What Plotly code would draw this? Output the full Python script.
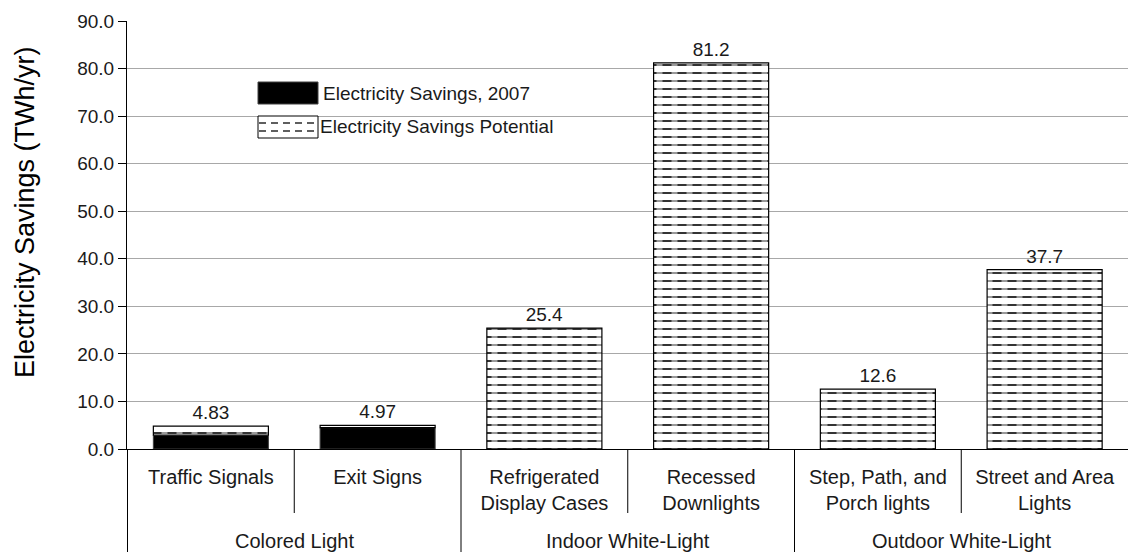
import plotly.graph_objects as go

# ---- data ----
groups = ["Colored Light", "Colored Light", "Indoor White-Light", "Indoor White-Light",
          "Outdoor White-Light", "Outdoor White-Light"]
categories = ["Traffic Signals", "Exit Signs", "Refrigerated<br>Display Cases",
              "Recessed<br>Downlights", "Step, Path, and<br>Porch lights", "Street and Area<br>Lights"]
savings_2007 = [2.9, 4.5, 0.0, 0.0, 0.0, 0.0]
savings_potential_total = [4.83, 4.97, 25.4, 81.2, 12.6, 37.7]
y_ticks = [0, 10, 20, 30, 40, 50, 60, 70, 80, 90]

FONT = "Liberation Sans, Arial, sans-serif"
TXT = "#1a1a1a"
remaining = [t - s for t, s in zip(savings_potential_total, savings_2007)]
labels = [f"{v:.3g}" for v in savings_potential_total]

# page body has an 8px margin: plot area in page px -> left 127, top 21, right 1128, bottom 449
PL, PT, PR, PB = 127, 21, 1128, 449
W, H = 1134, 544
PW, PH = PR - PL, PB - PT


def px(x):
    return (x - PL) / PW


def py(y):
    return (PB - y) / PH


fig = go.Figure()
fig.add_trace(go.Bar(x=categories, y=savings_2007, base=0, name="Electricity Savings, 2007",
                     marker=dict(color="black", line=dict(color="#404040", width=1)),
                     showlegend=False))
fig.add_trace(go.Bar(x=categories, y=remaining, base=savings_2007, name="Electricity Savings Potential",
                     marker=dict(color="white", line=dict(width=0),
                                 pattern=dict(shape="-", size=8, solidity=0.25,
                                              fgcolor="#333333", bgcolor="white", fillmode="replace")),
                     showlegend=False))
fig.add_trace(go.Bar(x=categories, y=remaining, base=savings_2007, hoverinfo="skip",
                     marker=dict(color="rgba(0,0,0,0)", line=dict(width=0),
                                 pattern=dict(shape="|", size=15, solidity=0.4,
                                              fgcolor="white", bgcolor="rgba(0,0,0,0)",
                                              fillmode="overlay")),
                     showlegend=False))
fig.add_trace(go.Bar(x=categories, y=remaining, base=savings_2007, hoverinfo="skip",
                     marker=dict(color="rgba(0,0,0,0)", line=dict(color="black", width=1.2)),
                     text=labels, textposition="outside", cliponaxis=False,
                     textfont=dict(family=FONT, size=19, color=TXT),
                     showlegend=False))

n = len(categories)
shapes = []
for i in range(n):
    b = i - 0.5
    if i == 0 or groups[i] != groups[i - 1]:
        y_end = py(560)
    else:
        y_end = py(513)
    shapes.append(dict(type="line", xref="x", yref="paper", x0=b, x1=b, y0=0, y1=y_end,
                       line=dict(color="black", width=1)))

lx0, lx1 = px(258), px(318)
shapes.append(dict(type="rect", xref="paper", yref="paper", x0=lx0, x1=lx1,
                   y0=py(104), y1=py(82), fillcolor="black", line=dict(color="#404040", width=1)))
shapes.append(dict(type="rect", xref="paper", yref="paper", x0=lx0, x1=lx1,
                   y0=py(138), y1=py(116), fillcolor="white", line=dict(color="black", width=1)))
for yy in (123, 131):
    shapes.append(dict(type="line", xref="paper", yref="paper", x0=px(259), x1=px(317),
                       y0=py(yy), y1=py(yy),
                       line=dict(color="#2a2a2a", width=1.6, dash="7px,5px")))

annotations = []
uniq = []
for g in groups:
    if g not in uniq:
        uniq.append(g)
for g in uniq:
    idx = [i for i, gg in enumerate(groups) if gg == g]
    annotations.append(dict(text=g, xref="x", yref="paper", x=sum(idx) / len(idx),
                            y=py(541), showarrow=False, yanchor="middle",
                            font=dict(family=FONT, size=20, color=TXT)))
annotations.append(dict(text="Electricity Savings, 2007", xref="paper", yref="paper",
                        x=px(321), y=py(93), xanchor="left", yanchor="middle",
                        showarrow=False, font=dict(family=FONT, size=19, color=TXT)))
annotations.append(dict(text="Electricity Savings Potential", xref="paper", yref="paper",
                        x=px(318), y=py(127), xanchor="left", yanchor="middle",
                        showarrow=False, font=dict(family=FONT, size=19, color=TXT)))
annotations.append(dict(text="Electricity Savings (TWh/yr)", xref="paper", yref="paper",
                        x=px(25), y=py(212), textangle=-90,
                        xanchor="center", yanchor="middle", showarrow=False,
                        font=dict(family=FONT, size=27, color="black")))

fig.update_layout(
    width=W, height=H,
    margin=dict(l=PL - 8, r=(8 + W) - PR, t=PT - 8, b=(8 + H) - PB),
    paper_bgcolor="white", plot_bgcolor="white",
    barmode="overlay", bargap=0.31,
    shapes=shapes, annotations=annotations,
    showlegend=False,
    font=dict(family=FONT, size=20, color=TXT),
)
fig.update_xaxes(type="category", showline=True, linecolor="black", linewidth=1,
                 ticks="", showgrid=False, tickfont=dict(family=FONT, size=20, color=TXT),
                 ticklabelstandoff=10, fixedrange=True, automargin=False)
fig.update_yaxes(range=[0, 90], tickvals=y_ticks, tickformat=".1f", showgrid=True,
                 gridcolor="#a8a8a8", gridwidth=1, showline=True, linecolor="black",
                 ticks="outside", ticklen=8, tickcolor="black", zeroline=False,
                 tickfont=dict(family=FONT, size=19, color=TXT), automargin=False)

fig.write_html("out.html")
